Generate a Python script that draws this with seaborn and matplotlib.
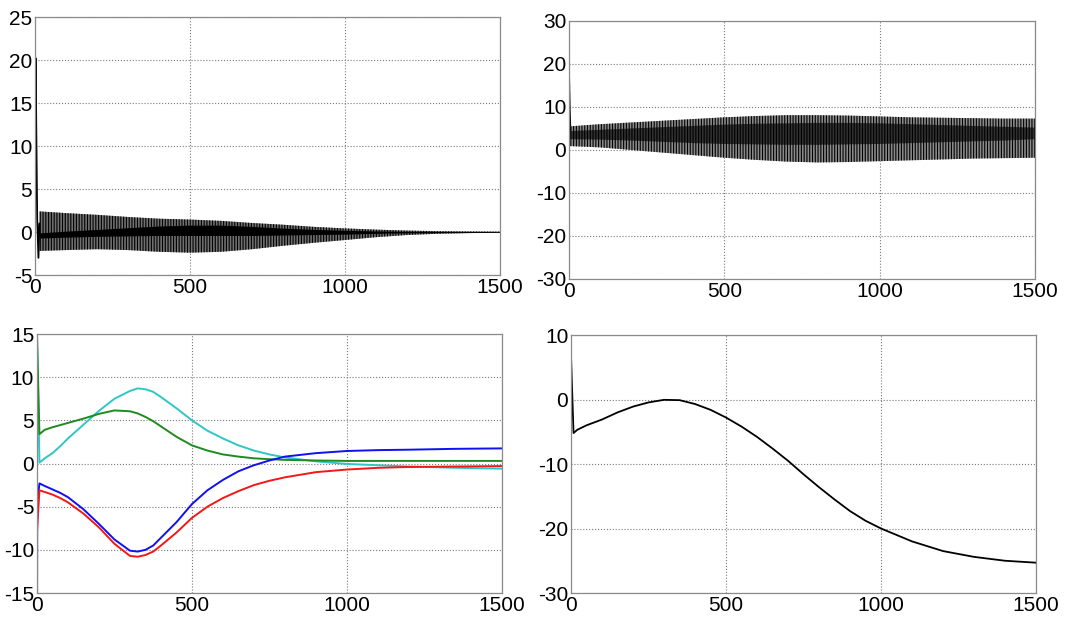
import numpy as np
import pandas as pd
import seaborn as sns
import matplotlib.pyplot as plt

# ---- top-left: decaying oscillation (envelopes) ----
tl_x = [14, 100, 200, 300, 400, 500, 600, 700, 800, 900, 1000, 1100, 1200, 1300, 1400, 1500]
tl_upper = [2.4, 2.2, 2.0, 1.75, 1.55, 1.45, 1.3, 1.05, 0.85, 0.6, 0.42, 0.28, 0.17, 0.1, 0.07, 0.05]
tl_lower = [-2.2, -2.1, -2.0, -2.1, -2.3, -2.4, -2.3, -2.0, -1.6, -1.25, -0.93, -0.6, -0.35, -0.2, -0.12, -0.08]
tl_core_hi = [-0.1, 0.1, 0.3, 0.5, 0.7, 0.8, 0.8, 0.65, 0.45, 0.3, 0.2, 0.12, 0.08, 0.06, 0.05, 0.04]
tl_core_lo = [-0.7, -0.6, -0.5, -0.45, -0.4, -0.4, -0.4, -0.4, -0.35, -0.3, -0.25, -0.15, -0.1, -0.07, -0.06, -0.05]
tl_spike_x = [0, 2, 4, 7, 11, 14]
tl_spike_y = [0, 20.2, 12, 1.5, -3.0, 1.0]

# ---- top-right: growing oscillation ----
tr_x = [3, 100, 200, 300, 400, 500, 600, 700, 800, 900, 1000, 1100, 1200, 1300, 1400, 1500]
tr_upper = [5.5, 6.0, 6.4, 6.8, 7.2, 7.6, 7.9, 8.1, 8.1, 8.0, 7.8, 7.6, 7.5, 7.4, 7.3, 7.3]
tr_lower = [0.9, 0.6, 0.0, -0.6, -1.2, -1.8, -2.3, -2.7, -2.9, -2.8, -2.6, -2.4, -2.2, -2.0, -1.9, -1.8]
tr_core_hi = [4.4, 4.7, 5.0, 5.3, 5.6, 5.9, 6.1, 6.2, 6.3, 6.3, 6.2, 6.0, 5.8, 5.6, 5.4, 5.2]
tr_core_lo = [2.5, 2.4, 2.2, 1.9, 1.6, 1.4, 1.3, 1.2, 1.2, 1.3, 1.4, 1.6, 1.8, 2.0, 2.2, 2.5]
tr_spike_x = [0, 1, 3, 5]
tr_spike_y = [3, 16.5, 9.5, 4.5]

# ---- bottom-left: four state trajectories ----
bl_x = [0, 8, 25, 50, 75, 100, 150, 200, 250, 300, 325, 350, 375, 400, 450, 500,
        550, 600, 650, 700, 750, 800, 900, 1000, 1100, 1200, 1350, 1500]
bl_cyan = [15, 0.1, 0.6, 1.2, 2.0, 2.9, 4.5, 6.1, 7.5, 8.4, 8.7, 8.6, 8.3, 7.7, 6.4, 5.0,
           3.8, 2.9, 2.1, 1.5, 1.05, 0.7, 0.25, -0.05, -0.2, -0.35, -0.5, -0.6]
bl_green = [15, 3.4, 3.9, 4.2, 4.45, 4.7, 5.2, 5.75, 6.15, 6.05, 5.8, 5.4, 4.9, 4.3, 3.1, 2.1,
            1.5, 1.05, 0.8, 0.6, 0.5, 0.42, 0.35, 0.3, 0.3, 0.3, 0.3, 0.3]
bl_blue = [-5, -2.3, -2.6, -3.0, -3.4, -3.9, -5.3, -7.0, -8.8, -10.1, -10.2, -10.0, -9.5, -8.6, -6.8, -4.7,
           -3.1, -1.9, -0.9, -0.2, 0.35, 0.8, 1.2, 1.45, 1.55, 1.6, 1.7, 1.75]
bl_red = [-8, -3.1, -3.3, -3.6, -4.0, -4.5, -5.8, -7.4, -9.3, -10.7, -10.8, -10.6, -10.2, -9.5, -8.0, -6.3,
          -5.0, -4.0, -3.2, -2.5, -2.0, -1.6, -1.0, -0.7, -0.5, -0.4, -0.35, -0.3]
bl_purple_x = [0, 0.5]
bl_purple_y = [-15, -5]

# ---- bottom-right: single slow trajectory ----
br_x = [0, 8, 20, 50, 100, 150, 200, 250, 300, 350, 400, 450, 500, 550, 600, 650, 700,
        750, 800, 850, 900, 950, 1000, 1100, 1200, 1300, 1400, 1500]
br_y = [6.5, -5.2, -4.7, -4.0, -3.1, -2.0, -1.1, -0.45, -0.05, -0.1, -0.7, -1.6, -2.8, -4.2, -5.8, -7.6, -9.5,
        -11.6, -13.6, -15.5, -17.3, -18.8, -20.0, -22.0, -23.5, -24.4, -25.0, -25.3]

sns.set_style("white")
plt.rcParams['font.family'] = ['Liberation Sans', 'DejaVu Sans']
plt.rcParams['font.size'] = 15
plt.rcParams['axes.unicode_minus'] = False
plt.rcParams['hatch.linewidth'] = 0.8

fig = plt.figure(figsize=(10.65, 6.19), dpi=100)
ax1 = fig.add_axes([0.0329, 0.5557, 0.4366, 0.4168])
ax2 = fig.add_axes([0.5343, 0.5493, 0.4376, 0.4168])
ax3 = fig.add_axes([0.0347, 0.0420, 0.4366, 0.4184])
ax4 = fig.add_axes([0.5362, 0.0420, 0.4366, 0.4168])


def style(ax, ylim, yticks):
    ax.set_xlim(0, 1500)
    ax.set_ylim(*ylim)
    ax.set_xticks([0, 500, 1000, 1500])
    ax.set_yticks(yticks)
    ax.grid(True, linestyle=':', color='#7a7a7a', linewidth=0.8)
    ax.set_axisbelow(True)
    for s in ax.spines.values():
        s.set_color('#8a8a8a')
        s.set_linewidth(0.9)
    ax.tick_params(direction='in', length=3, color='#8a8a8a', labelsize=15,
                   labelcolor='black', pad=2)
    ax.set_xlabel('')
    ax.set_ylabel('')


# top-left: oscillation drawn as a hatched envelope with a dense core
ax1.fill_between(tl_x, tl_lower, tl_upper, facecolor='#707070', edgecolor='black',
                 hatch='||||||', linewidth=0)
ax1.fill_between(tl_x, tl_core_lo, tl_core_hi, color='black', linewidth=0)
sns.lineplot(x=tl_spike_x, y=tl_spike_y, ax=ax1, color='black', linewidth=1.3, sort=False)
style(ax1, (-5, 25), [-5, 0, 5, 10, 15, 20, 25])

# top-right
ax2.fill_between(tr_x, tr_lower, tr_upper, facecolor='#8a8a8a', edgecolor='black',
                 hatch='||||||', linewidth=0)
ax2.fill_between(tr_x, tr_core_lo, tr_core_hi, facecolor='#303030', edgecolor='black',
                 hatch='||||||', linewidth=0)
sns.lineplot(x=tr_spike_x, y=tr_spike_y, ax=ax2, color='black', linewidth=1.0, sort=False)
style(ax2, (-30, 30), [-30, -20, -10, 0, 10, 20, 30])

# bottom-left
df = pd.DataFrame({
    'x': bl_x * 4,
    'y': bl_cyan + bl_green + bl_blue + bl_red,
    'state': ['c'] * len(bl_x) + ['g'] * len(bl_x) + ['b'] * len(bl_x) + ['r'] * len(bl_x),
})
pal = {'c': '#2fc6c6', 'g': '#1f8a1f', 'b': '#1010f0', 'r': '#f01818'}
sns.lineplot(data=df, x='x', y='y', hue='state', palette=pal, ax=ax3,
             linewidth=1.4, legend=False, estimator=None, sort=False)
sns.lineplot(x=bl_purple_x, y=bl_purple_y, ax=ax3, color='#8a3cc0', linewidth=1.6, sort=False)
style(ax3, (-15, 15), [-15, -10, -5, 0, 5, 10, 15])

# bottom-right
sns.lineplot(x=br_x, y=br_y, ax=ax4, color='black', linewidth=1.3, sort=False)
style(ax4, (-30, 10), [-30, -20, -10, 0, 10])

fig.savefig('out.png', dpi=100)
